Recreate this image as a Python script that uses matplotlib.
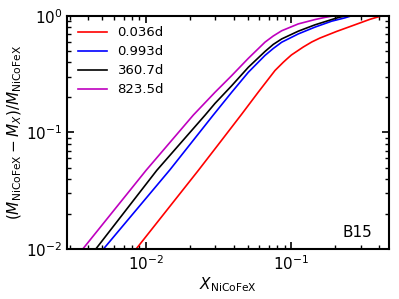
import matplotlib
matplotlib.use("Agg")
import matplotlib.pyplot as plt

labels = ["0.036d", "0.993d", "360.7d", "823.5d"]
colors = ["r", "b", "k", "m"]

x_0036 = [0.00854, 0.0229, 0.0323, 0.0455, 0.0592, 0.0771, 0.0879, 0.0927, 0.100, 0.1205, 0.138, 0.157, 0.205, 0.266, 0.346, 0.385, 0.419, 0.47]
y_0036 = [0.0100, 0.0473, 0.0824, 0.1436, 0.222, 0.340, 0.400, 0.425, 0.462, 0.540, 0.597, 0.645, 0.736, 0.828, 0.933, 0.971, 1.0, 1.0]

x_0993 = [0.00509, 0.01463, 0.0290, 0.0388, 0.0505, 0.0658, 0.075, 0.0857, 0.1115, 0.145, 0.189, 0.233, 0.258, 0.47]
y_0993 = [0.0100, 0.0480, 0.141, 0.221, 0.328, 0.458, 0.525, 0.594, 0.700, 0.800, 0.900, 0.961, 1.0, 1.0]

x_3607 = [0.00451, 0.01185, 0.0255, 0.0298, 0.0388, 0.0505, 0.0658, 0.075, 0.0857, 0.1115, 0.145, 0.189, 0.212, 0.235, 0.47]
y_3607 = [0.0100, 0.0473, 0.141, 0.1775, 0.2515, 0.362, 0.495, 0.569, 0.634, 0.739, 0.837, 0.929, 0.970, 1.0, 1.0]

x_8235 = [0.00367, 0.0100, 0.02115, 0.0298, 0.0388, 0.0505, 0.0658, 0.075, 0.0857, 0.1115, 0.145, 0.170, 0.195, 0.47]
y_8235 = [0.0100, 0.0473, 0.141, 0.221, 0.307, 0.432, 0.595, 0.672, 0.745, 0.853, 0.929, 0.970, 1.0, 1.0]

xs = [x_0036, x_0993, x_3607, x_8235]
ys = [y_0036, y_0993, y_3607, y_8235]

fig = plt.figure(figsize=(3.99, 2.99), dpi=100)
ax = fig.add_axes([0.169, 0.167, 0.806, 0.780])

for x, y, c, l in zip(xs, ys, colors, labels):
    ax.plot(x, y, color=c, lw=1.2, label=l)

ax.set_xscale("log")
ax.set_yscale("log")
ax.set_xlim(0.00288, 0.469)
ax.set_ylim(0.01, 1.0)

for s in ax.spines.values():
    s.set_linewidth(1.5)
ax.tick_params(which="both", direction="in", top=True, right=True, labelsize=11)
ax.tick_params(which="major", length=5, width=1.2)
ax.tick_params(which="minor", length=3, width=1.0)

ax.set_xlabel(r"$X_{\rm NiCoFeX}$", fontsize=11, labelpad=2)
ax.set_ylabel(r"$(M_{\rm NiCoFeX}-M_X)/M_{\rm NiCoFeX}$", fontsize=11, labelpad=2)

ax.legend(loc="upper left", frameon=False, fontsize=9.5, handlelength=2.2,
          borderaxespad=0.4, labelspacing=0.45)
ax.text(0.947, 0.04, "B15", transform=ax.transAxes, ha="right", va="bottom", fontsize=11)

fig.savefig("out.png", dpi=100)
